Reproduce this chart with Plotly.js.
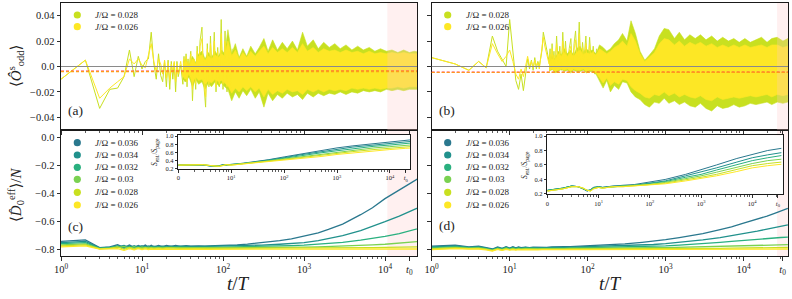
<!DOCTYPE html>
<html><head><meta charset="utf-8">
<script src="https://cdn.plot.ly/plotly-3.0.1.min.js"></script>
<style>html,body{margin:0;padding:0;background:#fff}#chart{width:792px;height:299px}</style>
</head><body><div id="chart"></div>
<script>
// ---------------- DATA ----------------
const jLabels = ['0.036','0.034','0.032','0.03','0.028','0.026'];
const jColors = ['#2a788e','#21918c','#2ab07f','#7ad151','#c8e020','#fde725'];

const t0L = 20000, t0R = 31600;
const shadeL = 10700, shadeR = 26900;
const meanA = [-0.0036, -0.0040];   // red, orange dashed (a)
const meanB = [-0.0044, -0.0047];   // red, orange dashed (b)

// top panels, early times
const tEarly = [1,2,3,4,5,6,7,8,9,10,11,12,13,14,15,16,17,18,19,20,21,22,23,24,25,26,27,28,30,32];
const aEarly28 = [-0.010,0.005,-0.033,-0.018,-0.017,-0.008,0.013,-0.008,0.008,-0.002,0.004,0.006,0.027,0.002,-0.010,0.010,-0.007,-0.012,0.004,-0.016,0.005,-0.018,0.004,-0.010,0.003,-0.020,0.004,-0.008,0.001,-0.014];
const aEarly26 = [-0.010,0.005,-0.025,-0.017,-0.012,-0.008,0.006,0.002,0.006,0.001,-0.001,0.008,0.018,0.004,-0.004,0.006,0.002,-0.006,0.005,-0.009,0.003,-0.011,0.002,-0.004,0.004,-0.012,0.002,-0.006,0.004,-0.008];
const bEarly28 = [0.007,0.002,-0.003,0.004,-0.001,0.024,0.012,0.006,0.000,0.037,0.010,-0.011,-0.018,-0.006,-0.019,-0.004,0.006,-0.002,0.005,-0.003,0.007,-0.002,0.004,0.000,0.006,0.013,0.027,0.022,0.012,0.004];
const bEarly26 = [0.007,0.002,-0.003,0.004,-0.001,0.018,0.010,0.004,0.008,0.013,0.004,-0.006,-0.010,-0.002,-0.008,0.002,0.008,0.000,0.004,-0.001,0.005,0.001,0.003,-0.002,0.008,0.016,0.023,0.017,0.009,0.002];

// top panels, spiky oscillations at intermediate times
const tZig = [32,33,34,35,36,37,38,40,42,44,46,48,50,52,55,58,61,64,67,70,74,78,82,86,90,95,100,106,112,118,124,130];
const aZig28 = [-0.014,0.008,-0.012,0.010,-0.016,0.006,-0.004,0.012,-0.027,0.004,-0.018,0.016,-0.010,0.020,0.031,-0.014,-0.032,0.018,-0.016,0.024,-0.012,0.027,-0.020,0.015,-0.016,0.037,-0.018,0.028,-0.020,0.016,-0.022,0.014];
const aZig26 = [-0.008,0.006,-0.010,0.008,-0.012,0.004,-0.006,0.010,-0.018,0.006,-0.014,0.012,-0.008,0.016,0.022,-0.012,-0.024,0.014,-0.014,0.018,-0.010,0.020,-0.016,0.012,-0.014,0.026,-0.014,0.020,-0.016,0.012,-0.018,0.010];
const bZig28 = [0.004,0.014,-0.003,0.018,0.002,0.012,-0.004,0.024,0.001,0.016,-0.003,0.027,0.004,0.020,-0.002,0.014,0.022,-0.004,0.018,0.028,0.002,0.035,-0.003,0.019,0.006,0.024,-0.004,0.023,0.002,0.016,-0.006,0.014];
const bZig26 = [0.002,0.010,-0.002,0.014,0.003,0.009,-0.003,0.018,0.002,0.012,-0.002,0.020,0.004,0.015,-0.001,0.011,0.016,-0.003,0.013,0.021,0.002,0.026,-0.002,0.015,0.005,0.018,-0.003,0.017,0.002,0.012,-0.004,0.010];

// top panels, dense oscillation envelopes
const tEnv = [32,35,38,42,46,50,55,60,66,72,80,88,96,105,115,128,142,158,176,196,220,250,280,320,360,410,470,540,620,720,830,960,1100,1300,1500,1750,2050,2400,2800,3300,3900,4600,5400,6400,7500,8800,10400,12200,14400,17000,20000,23000,27000,32000,37000];
const aUp28 = [0.004,0.006,0.000,0.008,0.003,0.010,0.012,0.006,0.011,0.007,0.012,0.008,0.013,0.010,0.029,0.010,0.018,0.007,0.014,0.008,0.016,0.010,0.015,0.022,0.012,0.021,0.013,0.019,0.014,0.020,0.013,0.027,0.016,0.021,0.014,0.019,0.015,0.018,0.014,0.017,0.013,0.016,0.013,0.015,0.012,0.014,0.012,0.013,0.011,0.013,0.011,0.012,0.011,0.012,0.011];
const aLo28 = [-0.010,-0.012,-0.008,-0.016,-0.010,-0.014,-0.012,-0.018,-0.013,-0.016,-0.012,-0.015,-0.013,-0.016,-0.018,-0.027,-0.020,-0.025,-0.019,-0.023,-0.018,-0.025,-0.020,-0.032,-0.021,-0.027,-0.022,-0.025,-0.021,-0.024,-0.022,-0.026,-0.021,-0.024,-0.021,-0.023,-0.021,-0.022,-0.020,-0.022,-0.020,-0.021,-0.019,-0.020,-0.019,-0.020,-0.018,-0.019,-0.018,-0.019,-0.018,-0.018,-0.018,-0.018,-0.018];
const aUp26 = [0.002,0.004,0.000,0.006,0.002,0.008,0.009,0.005,0.008,0.006,0.009,0.007,0.010,0.008,0.020,0.008,0.013,0.006,0.011,0.007,0.012,0.008,0.012,0.016,0.010,0.015,0.011,0.014,0.011,0.015,0.011,0.018,0.012,0.015,0.011,0.014,0.012,0.013,0.011,0.013,0.011,0.012,0.010,0.012,0.010,0.011,0.010,0.011,0.010,0.011,0.010,0.010,0.010,0.010,0.010];
const aLo26 = [-0.008,-0.010,-0.006,-0.013,-0.008,-0.011,-0.010,-0.014,-0.011,-0.013,-0.010,-0.012,-0.011,-0.013,-0.015,-0.021,-0.017,-0.020,-0.016,-0.019,-0.016,-0.020,-0.017,-0.024,-0.018,-0.022,-0.019,-0.021,-0.018,-0.020,-0.019,-0.022,-0.018,-0.020,-0.018,-0.020,-0.018,-0.019,-0.018,-0.019,-0.017,-0.018,-0.017,-0.018,-0.017,-0.018,-0.017,-0.017,-0.016,-0.017,-0.016,-0.016,-0.016,-0.016,-0.016];
const bUp28 = [0.004,0.008,0.006,0.012,0.009,0.014,0.010,0.013,0.009,0.014,0.016,0.011,0.014,0.012,0.013,0.010,0.017,0.015,0.012,0.014,0.018,0.021,0.026,0.020,0.036,0.026,0.012,0.005,0.009,0.014,0.024,0.030,0.029,0.022,0.027,0.021,0.025,0.022,0.025,0.021,0.024,0.020,0.023,0.020,0.022,0.019,0.022,0.019,0.021,0.023,0.019,0.022,0.023,0.020,0.022];
const bLo28 = [-0.004,-0.002,-0.005,-0.004,-0.002,-0.004,-0.003,-0.005,-0.003,-0.004,-0.004,-0.003,-0.005,-0.004,-0.004,-0.006,-0.012,-0.017,-0.011,-0.020,-0.015,-0.018,-0.012,-0.013,-0.020,-0.024,-0.026,-0.030,-0.032,-0.028,-0.029,-0.025,-0.029,-0.027,-0.030,-0.028,-0.031,-0.032,-0.029,-0.033,-0.035,-0.031,-0.033,-0.032,-0.030,-0.032,-0.031,-0.029,-0.030,-0.029,-0.028,-0.030,-0.028,-0.029,-0.028];
const bUp26 = [0.003,0.006,0.005,0.010,0.008,0.011,0.008,0.011,0.008,0.011,0.013,0.009,0.011,0.010,0.011,0.009,0.014,0.012,0.010,0.012,0.015,0.017,0.020,0.016,0.026,0.020,0.010,0.004,0.007,0.011,0.018,0.022,0.021,0.017,0.020,0.016,0.019,0.017,0.019,0.016,0.018,0.015,0.017,0.015,0.017,0.015,0.017,0.015,0.016,0.017,0.015,0.017,0.017,0.015,0.016];
const bLo26 = [-0.003,-0.002,-0.004,-0.003,-0.002,-0.003,-0.002,-0.004,-0.002,-0.003,-0.003,-0.002,-0.004,-0.003,-0.003,-0.005,-0.009,-0.013,-0.009,-0.015,-0.012,-0.014,-0.010,-0.011,-0.016,-0.019,-0.021,-0.024,-0.025,-0.022,-0.023,-0.020,-0.023,-0.021,-0.024,-0.022,-0.024,-0.025,-0.023,-0.026,-0.027,-0.024,-0.026,-0.025,-0.024,-0.025,-0.024,-0.023,-0.024,-0.023,-0.022,-0.024,-0.022,-0.023,-0.022];

// bottom panels
const tB = [1,2,3,4,5,6,7,8,9,10,11,12,13,14,16,18,20,23,26,30,35,40,50,60,80,100,150,200,300,500,700,1000,1500,2000,3000,5000,7000,10000,15000,20000,25000,30000,37000];
const c36 = [-0.745,-0.735,-0.790,-0.785,-0.770,-0.790,-0.772,-0.788,-0.775,-0.785,-0.772,-0.786,-0.774,-0.784,-0.774,-0.783,-0.775,-0.782,-0.775,-0.781,-0.776,-0.780,-0.777,-0.779,-0.776,-0.775,-0.770,-0.765,-0.755,-0.740,-0.728,-0.710,-0.685,-0.660,-0.622,-0.555,-0.505,-0.440,-0.375,-0.335,-0.300,-0.280,-0.255];
const c34 = [-0.755,-0.745,-0.793,-0.788,-0.785,-0.775,-0.790,-0.776,-0.789,-0.777,-0.788,-0.778,-0.787,-0.779,-0.786,-0.779,-0.785,-0.780,-0.784,-0.780,-0.783,-0.781,-0.782,-0.781,-0.781,-0.780,-0.778,-0.776,-0.772,-0.766,-0.761,-0.754,-0.740,-0.727,-0.705,-0.668,-0.640,-0.605,-0.565,-0.535,-0.510,-0.490,-0.465];
const c32 = [-0.762,-0.755,-0.795,-0.790,-0.778,-0.795,-0.780,-0.793,-0.782,-0.792,-0.783,-0.791,-0.784,-0.790,-0.784,-0.789,-0.785,-0.789,-0.785,-0.788,-0.786,-0.788,-0.786,-0.787,-0.786,-0.786,-0.785,-0.784,-0.782,-0.779,-0.776,-0.773,-0.767,-0.762,-0.752,-0.737,-0.725,-0.710,-0.690,-0.672,-0.655,-0.645,-0.630];
const c30 = [-0.770,-0.763,-0.797,-0.793,-0.790,-0.782,-0.796,-0.784,-0.795,-0.786,-0.794,-0.787,-0.793,-0.788,-0.793,-0.788,-0.792,-0.789,-0.792,-0.790,-0.791,-0.790,-0.791,-0.791,-0.791,-0.791,-0.791,-0.790,-0.790,-0.789,-0.788,-0.787,-0.785,-0.783,-0.780,-0.775,-0.771,-0.766,-0.760,-0.754,-0.749,-0.745,-0.740];
const c28 = [-0.777,-0.770,-0.799,-0.796,-0.785,-0.803,-0.788,-0.800,-0.790,-0.799,-0.791,-0.798,-0.792,-0.797,-0.792,-0.797,-0.793,-0.796,-0.794,-0.796,-0.794,-0.795,-0.795,-0.795,-0.795,-0.795,-0.795,-0.795,-0.795,-0.795,-0.795,-0.794,-0.794,-0.793,-0.792,-0.791,-0.790,-0.789,-0.787,-0.786,-0.785,-0.784,-0.783];
const c26 = [-0.785,-0.778,-0.801,-0.799,-0.797,-0.810,-0.797,-0.806,-0.798,-0.805,-0.799,-0.804,-0.800,-0.803,-0.800,-0.803,-0.800,-0.802,-0.801,-0.802,-0.801,-0.802,-0.801,-0.802,-0.801,-0.801,-0.801,-0.801,-0.801,-0.801,-0.801,-0.801,-0.801,-0.801,-0.801,-0.801,-0.800,-0.800,-0.800,-0.800,-0.800,-0.800,-0.800];
const d36 = [-0.780,-0.772,-0.785,-0.780,-0.790,-0.800,-0.785,-0.795,-0.783,-0.793,-0.784,-0.792,-0.785,-0.791,-0.786,-0.790,-0.787,-0.789,-0.786,-0.788,-0.785,-0.786,-0.784,-0.783,-0.780,-0.777,-0.773,-0.770,-0.764,-0.752,-0.744,-0.733,-0.718,-0.708,-0.690,-0.662,-0.642,-0.615,-0.588,-0.565,-0.545,-0.527,-0.510];
const d34 = [-0.785,-0.778,-0.788,-0.784,-0.794,-0.803,-0.790,-0.798,-0.787,-0.796,-0.788,-0.795,-0.789,-0.794,-0.789,-0.793,-0.790,-0.792,-0.790,-0.791,-0.789,-0.790,-0.788,-0.787,-0.785,-0.784,-0.782,-0.780,-0.777,-0.772,-0.768,-0.762,-0.753,-0.746,-0.735,-0.718,-0.705,-0.690,-0.672,-0.658,-0.646,-0.637,-0.627];
const d32 = [-0.790,-0.783,-0.791,-0.788,-0.797,-0.806,-0.794,-0.801,-0.791,-0.799,-0.792,-0.798,-0.793,-0.797,-0.793,-0.796,-0.794,-0.795,-0.794,-0.795,-0.793,-0.794,-0.793,-0.792,-0.791,-0.790,-0.789,-0.788,-0.786,-0.783,-0.781,-0.778,-0.773,-0.769,-0.763,-0.753,-0.746,-0.738,-0.730,-0.725,-0.721,-0.718,-0.715];
const d30 = [-0.795,-0.788,-0.794,-0.792,-0.800,-0.808,-0.797,-0.804,-0.795,-0.802,-0.796,-0.801,-0.797,-0.800,-0.797,-0.799,-0.797,-0.798,-0.797,-0.798,-0.797,-0.797,-0.797,-0.796,-0.796,-0.795,-0.795,-0.794,-0.793,-0.792,-0.791,-0.790,-0.788,-0.787,-0.785,-0.782,-0.780,-0.778,-0.775,-0.773,-0.771,-0.770,-0.769];
const d28 = [-0.800,-0.793,-0.797,-0.796,-0.803,-0.811,-0.800,-0.807,-0.799,-0.805,-0.800,-0.804,-0.801,-0.803,-0.801,-0.803,-0.801,-0.802,-0.801,-0.802,-0.801,-0.801,-0.801,-0.800,-0.800,-0.800,-0.800,-0.800,-0.799,-0.799,-0.798,-0.798,-0.797,-0.797,-0.796,-0.795,-0.794,-0.793,-0.792,-0.791,-0.790,-0.790,-0.789];
const d26 = [-0.805,-0.798,-0.800,-0.800,-0.806,-0.814,-0.803,-0.810,-0.803,-0.808,-0.804,-0.807,-0.804,-0.806,-0.804,-0.806,-0.805,-0.806,-0.805,-0.806,-0.805,-0.805,-0.805,-0.805,-0.805,-0.805,-0.805,-0.805,-0.805,-0.805,-0.804,-0.804,-0.804,-0.804,-0.803,-0.803,-0.802,-0.802,-0.801,-0.801,-0.800,-0.800,-0.800];

// insets S/S_page
const tI = [1,2,3,4,5,6,7,8,10,12,15,20,30,50,100,200,500,1000,2000,5000,10000,20000,37000];
const L36 = [0.29,0.30,0.29,0.27,0.26,0.28,0.30,0.29,0.31,0.32,0.33,0.35,0.38,0.42,0.49,0.56,0.65,0.71,0.76,0.82,0.86,0.90,0.93];
const L34 = [0.29,0.30,0.29,0.27,0.26,0.27,0.30,0.29,0.31,0.31,0.32,0.34,0.37,0.41,0.47,0.54,0.62,0.68,0.73,0.78,0.82,0.86,0.89];
const L32 = [0.29,0.30,0.30,0.27,0.26,0.27,0.29,0.30,0.30,0.31,0.32,0.34,0.36,0.40,0.46,0.51,0.59,0.64,0.69,0.75,0.78,0.82,0.85];
const L30 = [0.29,0.30,0.30,0.28,0.26,0.27,0.29,0.30,0.30,0.31,0.32,0.33,0.36,0.39,0.44,0.49,0.56,0.61,0.66,0.71,0.74,0.78,0.80];
const L28 = [0.29,0.30,0.30,0.28,0.27,0.26,0.28,0.30,0.29,0.30,0.31,0.33,0.35,0.38,0.42,0.47,0.53,0.58,0.62,0.67,0.70,0.74,0.76];
const L26 = [0.29,0.30,0.30,0.28,0.27,0.26,0.28,0.30,0.29,0.30,0.31,0.32,0.34,0.37,0.40,0.44,0.50,0.55,0.59,0.64,0.67,0.70,0.72];
const R36 = [0.25,0.28,0.31,0.30,0.27,0.24,0.26,0.29,0.30,0.29,0.30,0.31,0.32,0.33,0.36,0.40,0.47,0.53,0.60,0.69,0.75,0.80,0.83];
const R34 = [0.25,0.28,0.31,0.30,0.27,0.24,0.26,0.29,0.30,0.29,0.30,0.31,0.31,0.32,0.35,0.38,0.45,0.50,0.56,0.64,0.70,0.74,0.77];
const R32 = [0.25,0.28,0.31,0.30,0.27,0.25,0.25,0.28,0.30,0.29,0.29,0.30,0.31,0.32,0.34,0.37,0.43,0.47,0.53,0.61,0.66,0.70,0.73];
const R30 = [0.24,0.27,0.30,0.30,0.28,0.25,0.25,0.28,0.29,0.28,0.29,0.30,0.31,0.32,0.33,0.36,0.41,0.45,0.50,0.57,0.62,0.66,0.68];
const R28 = [0.24,0.27,0.30,0.30,0.28,0.25,0.24,0.27,0.29,0.28,0.29,0.30,0.30,0.31,0.33,0.35,0.39,0.43,0.47,0.54,0.59,0.62,0.64];
const R26 = [0.24,0.27,0.30,0.30,0.28,0.25,0.24,0.27,0.29,0.28,0.29,0.30,0.30,0.31,0.32,0.34,0.38,0.41,0.45,0.51,0.56,0.59,0.61];

const cSeries = [c36,c34,c32,c30,c28,c26];
const dSeries = [d36,d34,d32,d30,d28,d26];
const LSeries = [L36,L34,L32,L30,L28,L26];
const RSeries = [R36,R34,R32,R30,R28,R26];

// ---------------- LAYOUT HELPERS ----------------
const W = 792, H = 299;
const px = x => x / W, py = y => 1 - y / H;
const FONT = 'Liberation Serif, DejaVu Serif, serif';
const INK = '#1a1a1a';

const minorVals = [];
for (let d = 0; d <= 4; d++) for (let k = 2; k <= 9; k++) minorVals.push(k * Math.pow(10, d));

function ax(extra) {
  return Object.assign({
    showline: true, linecolor: INK, linewidth: 1, mirror: true,
    ticks: 'outside', ticklen: 3.5, tickwidth: 0.9, tickcolor: INK,
    showgrid: false, zeroline: false, fixedrange: true,
    tickfont: {family: FONT, size: 10.5, color: '#222'}
  }, extra);
}
function logX(dom, anchor, maxLog, t0, labels, small) {
  return ax({
    domain: dom, anchor: anchor, type: 'log', range: [0, maxLog],
    tickmode: 'array', tickvals: [1, 10, 100, 1000, 10000, t0],
    ticktext: small ? ['0', '10<sup>1</sup>', '10<sup>2</sup>', '10<sup>3</sup>', '10<sup>4</sup>', '<i>t</i><sub>0</sub>']
                    : ['10<sup>0</sup>', '10<sup>1</sup>', '10<sup>2</sup>', '10<sup>3</sup>', '10<sup>4</sup>', '<i>t</i><sub>0</sub>'],
    showticklabels: labels,
    ticklen: small ? 2.5 : 3.5,
    tickfont: {family: FONT, size: small ? 6.5 : 10.5, color: '#222'},
    minor: {tickmode: 'array', tickvals: minorVals, ticks: 'outside', ticklen: small ? 1.5 : 2, tickwidth: 0.7, tickcolor: INK, showgrid: false}
  });
}

const topY = {range: [-0.05, 0.05], tickmode: 'array', tickvals: [-0.04, -0.02, 0, 0.02, 0.04], ticktext: ['−0.04', '−0.02', '0.0', '0.02', '0.04']};
const botY = {range: [-0.85, 0.05], tickmode: 'array', tickvals: [-0.8, -0.6, -0.4, -0.2, 0], ticktext: ['−0.8', '−0.6', '−0.4', '−0.2', '0.0']};
const insY = {tickmode: 'array', tickvals: [0.2, 0.4, 0.6, 0.8, 1.0], ticktext: ['0.2', '0.4', '0.6', '0.8', '1.0'], ticklen: 2.5, tickfont: {family: FONT, size: 6.5, color: '#222'}};

const domXL = [px(61), px(417)], domXR = [px(431.7), px(788)];
const domYT = [py(130), py(3)], domYB = [py(256), py(130)];

const layout = {
  width: W, height: H, margin: {l: 0, r: 0, t: 0, b: 0}, autosize: false,
  paper_bgcolor: '#fff', plot_bgcolor: '#fff', showlegend: false,
  xaxis: logX(domXL, 'y', 4.395, t0L, false, false),
  yaxis: ax(Object.assign({domain: domYT, anchor: 'x'}, topY)),
  xaxis2: logX(domXR, 'y2', 4.57, t0R, false, false),
  yaxis2: ax(Object.assign({domain: domYT, anchor: 'x2', showticklabels: false}, topY)),
  xaxis3: logX(domXL, 'y3', 4.395, t0L, true, false),
  yaxis3: ax(Object.assign({domain: domYB, anchor: 'x3'}, botY)),
  xaxis4: logX(domXR, 'y4', 4.57, t0R, true, false),
  yaxis4: ax(Object.assign({domain: domYB, anchor: 'x4', showticklabels: false}, botY)),
  xaxis5: logX([px(178.3), px(410)], 'y5', 4.38, t0L, true, true),
  yaxis5: ax(Object.assign({domain: [py(169), py(135)], anchor: 'x5', range: [0.195, 1.025]}, insY)),
  xaxis6: logX([px(547.3), px(783)], 'y6', 4.6, t0R, true, true),
  yaxis6: ax(Object.assign({domain: [py(194.3), py(135.3)], anchor: 'x6', range: [0.195, 1.01]}, insY)),
  shapes: [], annotations: []
};

// ---------------- TRACES ----------------
const traces = [];
function line(x, y, color, w, xa, ya) {
  return {type: 'scatter', mode: 'lines', x: x, y: y, line: {color: color, width: w}, xaxis: xa, yaxis: ya, hoverinfo: 'skip'};
}
function band(x, up, lo, color, xa, ya) {
  return {type: 'scatter', mode: 'lines', x: x.concat(x.slice().reverse()), y: up.concat(lo.slice().reverse()),
    fill: 'toself', fillcolor: color, line: {color: color, width: 0.6}, xaxis: xa, yaxis: ya, hoverinfo: 'skip'};
}
const C28 = jColors[4], C26 = jColors[5];
traces.push(line(tEarly, aEarly28, C28, 1, 'x', 'y'));
traces.push(band(tEnv, aUp28, aLo28, C28, 'x', 'y'));
traces.push(line(tZig, aZig28, C28, 0.9, 'x', 'y'));
traces.push(line(tEarly, aEarly26, C26, 1, 'x', 'y'));
traces.push(band(tEnv, aUp26, aLo26, C26, 'x', 'y'));
traces.push(line(tZig, aZig26, C26, 0.9, 'x', 'y'));
traces.push(line(tEarly, bEarly28, C28, 1, 'x2', 'y2'));
traces.push(band(tEnv, bUp28, bLo28, C28, 'x2', 'y2'));
traces.push(line(tZig, bZig28, C28, 0.9, 'x2', 'y2'));
traces.push(line(tEarly, bEarly26, C26, 1, 'x2', 'y2'));
traces.push(band(tEnv, bUp26, bLo26, C26, 'x2', 'y2'));
traces.push(line(tZig, bZig26, C26, 0.9, 'x2', 'y2'));
for (let i = 0; i < 6; i++) traces.push(line(tB, cSeries[i], jColors[i], 1.3, 'x3', 'y3'));
for (let i = 0; i < 6; i++) traces.push(line(tB, dSeries[i], jColors[i], 1.3, 'x4', 'y4'));
for (let i = 0; i < 6; i++) traces.push(line(tI, LSeries[i], jColors[i], 1, 'x5', 'y5'));
for (let i = 0; i < 6; i++) traces.push(line(tI, RSeries[i], jColors[i], 1, 'x6', 'y6'));

// ---------------- SHAPES ----------------
const S = layout.shapes;
function shade(xa, ya, x0, x1, layer) {
  S.push({type: 'rect', xref: xa, yref: ya + ' domain', x0: x0, x1: x1, y0: 0, y1: 1, fillcolor: 'rgba(255,200,200,0.28)', line: {width: 0}, layer: layer});
}
shade('x', 'y', shadeL, Math.pow(10, 4.395), 'above');
shade('x2', 'y2', shadeR, Math.pow(10, 4.57), 'above');
shade('x3', 'y3', shadeL, Math.pow(10, 4.395), 'below');
shade('x4', 'y4', shadeR, Math.pow(10, 4.57), 'below');
shade('x5', 'y5', shadeL, Math.pow(10, 4.38), 'below');
shade('x6', 'y6', shadeR, Math.pow(10, 4.6), 'below');
[['x', 'y', meanA], ['x2', 'y2', meanB]].forEach(([xa, ya, m]) => {
  S.push({type: 'line', xref: xa + ' domain', yref: ya, x0: 0, x1: 1, y0: 0, y1: 0, line: {color: '#8a8a8a', width: 1.2}, layer: 'above'});
  S.push({type: 'line', xref: xa + ' domain', yref: ya, x0: 0, x1: 1, y0: m[0], y1: m[0], line: {color: '#ff4040', width: 1.1, dash: '3px,2px'}, layer: 'above'});
  S.push({type: 'line', xref: xa + ' domain', yref: ya, x0: 0, x1: 1, y0: m[1], y1: m[1], line: {color: '#ff9a1a', width: 1.1, dash: '3px,2px'}, layer: 'above'});
});

// legend markers + text
const A = layout.annotations;
function legendEntry(cx, cy, color, label) {
  S.push({type: 'circle', xref: 'paper', yref: 'paper', x0: px(cx - 3.6), x1: px(cx + 3.6), y0: py(cy + 3.6), y1: py(cy - 3.6), fillcolor: color, line: {width: 0}});
  A.push({xref: 'paper', yref: 'paper', x: px(cx + 16), y: py(cy), xanchor: 'left', yanchor: 'middle', showarrow: false,
    text: '<i>J</i>/Ω = ' + label, font: {family: FONT, size: 9, color: '#222'}});
}
[77.3, 447.7].forEach(cx => {
  legendEntry(cx, 15, C28, '0.028');
  legendEntry(cx, 26.7, C26, '0.026');
  const ys = [142.7, 155, 167.3, 179.3, 192.3, 205];
  for (let i = 0; i < 6; i++) legendEntry(cx, ys[i], jColors[i], jLabels[i]);
});

// titles and panel labels
function txt(x, y, text, size, extra) {
  A.push(Object.assign({xref: 'paper', yref: 'paper', x: px(x), y: py(y), xanchor: 'center', yanchor: 'middle', showarrow: false,
    text: text, font: {family: FONT, size: size, color: '#222'}}, extra || {}));
}
txt(16, 66, '⟨<i>Ô</i><sup>s</sup><sub>odd</sub>⟩', 15, {textangle: -90});
txt(16, 195, '⟨<i>D̂</i><sub>0</sub><sup>eff</sup>⟩/<i>N</i>', 15, {textangle: -90});
txt(239, 283, '<i>t</i>/<i>T</i>', 19);
txt(610, 283, '<i>t</i>/<i>T</i>', 19);
txt(75, 110, '(a)', 13.5);
txt(446.7, 110, '(b)', 13.5);
txt(75, 226, '(c)', 13.5);
txt(446.7, 225, '(d)', 13.5);
txt(155, 152, '<i>S</i><sub>ent.</sub>/<i>S</i><sub>page</sub>', 7.5, {textangle: -90});
txt(525, 165, '<i>S</i><sub>ent.</sub>/<i>S</i><sub>page</sub>', 7.5, {textangle: -90});

Plotly.newPlot('chart', traces, layout, {staticPlot: true, displayModeBar: false});
</script></body></html>
